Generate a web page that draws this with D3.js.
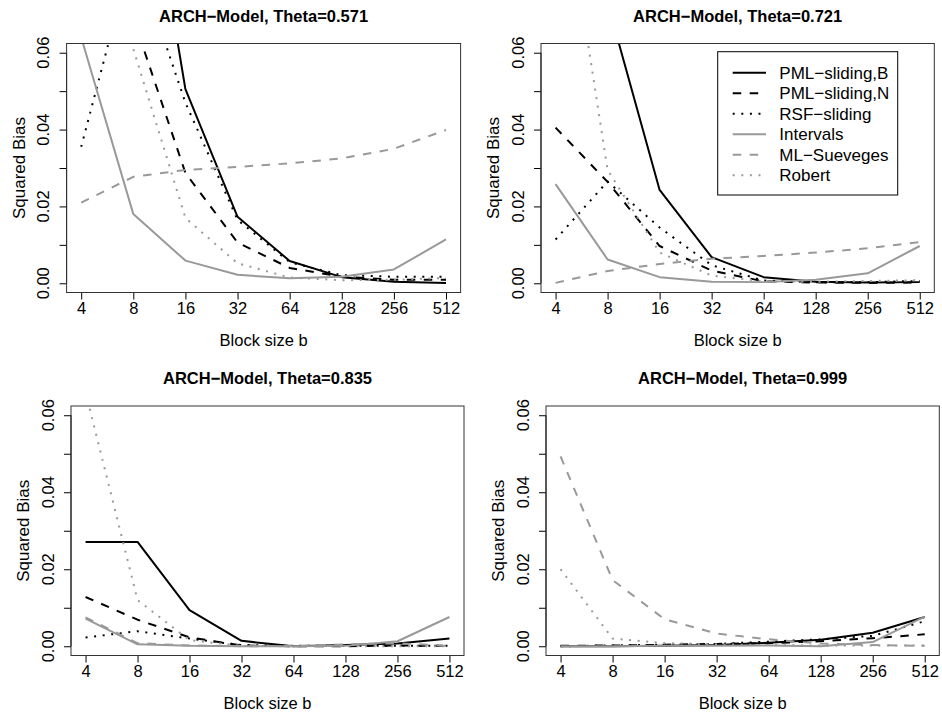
<!DOCTYPE html>
<html><head><meta charset="utf-8">
<script src="https://cdn.jsdelivr.net/npm/d3@7"></script>
<style>html,body{margin:0;padding:0;background:#fff}svg{display:block}text{font-family:"Liberation Sans",Arial,Helvetica,sans-serif}</style>
</head><body>
<svg id="c" width="942" height="715"></svg>
<script>
// ---- data ----
const blockSizes = [4, 8, 16, 32, 64, 128, 256, 512];
const xTickLabels = ["4", "8", "16", "32", "64", "128", "256", "512"];
const yTicks = [0, 0.01, 0.02, 0.03, 0.04, 0.05, 0.06];
const yTickLabels = ["0.00", "", "0.02", "", "0.04", "", "0.06"];
const seriesNames = ["PML\u2212sliding,B", "PML\u2212sliding,N", "RSF\u2212sliding", "Intervals", "ML\u2212Sueveges", "Robert"];
const panelTitles = ["ARCH\u2212Model, Theta=0.571", "ARCH\u2212Model, Theta=0.721", "ARCH\u2212Model, Theta=0.835", "ARCH\u2212Model, Theta=0.999"];

const t571_pmlB      = [0.20, 0.132, 0.0505, 0.0173, 0.0058, 0.0016, 0.0004, 0.0001];
const t571_pmlN      = [0.12, 0.069, 0.0287, 0.0106, 0.0040, 0.0017, 0.0009, 0.0009];
const t571_rsf       = [0.0355, 0.087, 0.047, 0.0165, 0.0055, 0.0021, 0.0017, 0.0017];
const t571_intervals = [0.064, 0.018, 0.0059, 0.0022, 0.0013, 0.0017, 0.0036, 0.0114];
const t571_mlS       = [0.021, 0.0277, 0.0295, 0.0303, 0.0312, 0.0325, 0.035, 0.0399];
const t571_robert    = [0.30, 0.061, 0.017, 0.0052, 0.0015, 0.0008, 0.0009, 0.0014];

const t721_pmlB      = [0.15, 0.073, 0.0243, 0.0068, 0.0016, 0.0004, 0.0002, 0.0003];
const t721_pmlN      = [0.0405, 0.0264, 0.0097, 0.0033, 0.0005, 0.0002, 0.0001, 0.0002];
const t721_rsf       = [0.0114, 0.0265, 0.0145, 0.0047, 0.0007, 0.0003, 0.0003, 0.0006];
const t721_intervals = [0.0258, 0.0062, 0.0016, 0.0004, 0.0003, 0.0009, 0.0026, 0.0097];
const t721_mlS       = [0.0001, 0.0032, 0.005, 0.0064, 0.0071, 0.008, 0.0091, 0.0107];
const t721_robert    = [0.117, 0.0295, 0.008, 0.002, 0.0005, 0.0004, 0.0006, 0.0008];

const t835_pmlB      = [0.0271, 0.0271, 0.0094, 0.0014, 0.0, 0.0003, 0.0007, 0.002];
const t835_pmlN      = [0.0128, 0.0069, 0.0023, 0.0002, 0.0, 0.0, 0.0002, 0.0001];
const t835_rsf       = [0.0023, 0.0039, 0.002, 0.0003, 0.0001, 0.0001, 0.0001, 0.0001];
const t835_intervals = [0.0072, 0.0005, 0.0001, 0.0, 0.0, 0.0001, 0.0013, 0.0076];
const t835_mlS       = [0.0075, 0.0008, 0.0002, 0.0, 0.0001, 0.0005, 0.0008, 0.0001];
const t835_robert    = [0.066, 0.012, 0.0016, 0.0001, 0.0, 0.0, 0.0, 0.0];

const t999_pmlB      = [0.0, 0.0, 0.0001, 0.0003, 0.0009, 0.0017, 0.0035, 0.0076];
const t999_pmlN      = [0.0001, 0.0002, 0.0004, 0.0006, 0.0008, 0.0013, 0.0021, 0.0031];
const t999_rsf       = [0.0, 0.0002, 0.0004, 0.0006, 0.0012, 0.0018, 0.0027, 0.0065];
const t999_intervals = [0.0, 0.0, 0.0001, 0.0001, 0.0002, 0.0, 0.0011, 0.0077];
const t999_mlS       = [0.0493, 0.0172, 0.007, 0.0033, 0.0018, 0.0007, 0.0003, 0.0001];
const t999_robert    = [0.02, 0.002, 0.0008, 0.0005, 0.0003, 0.0002, 0.0002, 0.0002];

const panelSeries = [
  [t571_pmlB, t571_pmlN, t571_rsf, t571_intervals, t571_mlS, t571_robert],
  [t721_pmlB, t721_pmlN, t721_rsf, t721_intervals, t721_mlS, t721_robert],
  [t835_pmlB, t835_pmlN, t835_rsf, t835_intervals, t835_mlS, t835_robert],
  [t999_pmlB, t999_pmlN, t999_rsf, t999_intervals, t999_mlS, t999_robert]
];

// ---- styles / layout ----
const styles = [
  {color: "#000", dash: null},
  {color: "#000", dash: "8.5,8.5"},
  {color: "#000", dash: "2,6.6"},
  {color: "#999", dash: null},
  {color: "#999", dash: "8.5,8.5"},
  {color: "#999", dash: "2,6.6"}
];
const boxes = [
  {l: 66.6, r: 460.6, t: 43.5, b: 292.5},
  {l: 541, r: 934.3, t: 43.5, b: 292.5},
  {l: 71, r: 464, t: 406, b: 655.5},
  {l: 546, r: 939.3, t: 406, b: 655.5}
];
const FS = 16.5;
const svg = d3.select("#c");
const ext = Math.pow(2, 0.28);

boxes.forEach((bx, pi) => {
  const x = d3.scaleLog().base(2).domain([4 / ext, 512 * ext]).range([bx.l, bx.r]);
  const y = d3.scaleLinear().domain([-0.0024, 0.0624]).range([bx.b, bx.t]);
  const g = svg.append("g");
  const cid = "clip" + pi;
  svg.append("defs").append("clipPath").attr("id", cid)
    .append("rect").attr("x", bx.l).attr("y", bx.t).attr("width", bx.r - bx.l).attr("height", bx.b - bx.t);

  // x axis
  const xa = g.append("g").attr("transform", `translate(0,${bx.b})`)
    .call(d3.axisBottom(x).tickValues(blockSizes).tickFormat((d, i) => xTickLabels[i]).tickSize(7).tickPadding(3));
  xa.select(".domain").attr("d", `M${x(4)},0H${x(512)}`).attr("stroke", "#000");
  xa.selectAll("line").attr("stroke", "#000");
  xa.selectAll("text").attr("font-size", FS).attr("fill", "#000").attr("font-family", "Liberation Sans, Arial, sans-serif");

  // y axis
  const ya = g.append("g").attr("transform", `translate(${bx.l},0)`)
    .call(d3.axisLeft(y).tickValues(yTicks).tickFormat((d, i) => yTickLabels[i]).tickSize(7));
  ya.select(".domain").attr("d", `M0,${y(0)}V${y(0.06)}`).attr("stroke", "#000");
  ya.selectAll("line").attr("stroke", "#000");
  ya.selectAll("text").remove();
  yTicks.forEach((v, i) => {
    if (!yTickLabels[i]) return;
    g.append("text").attr("transform", `translate(${bx.l - 17.5},${y(v)}) rotate(-90)`)
      .attr("text-anchor", "middle").attr("font-size", FS).text(yTickLabels[i]);
  });

  // lines
  const line = d3.line().x((d, i) => x(blockSizes[i])).y(d => y(d));
  const lg = g.append("g").attr("clip-path", `url(#${cid})`);
  panelSeries[pi].forEach((vals, si) => {
    lg.append("path").datum(vals).attr("d", line)
      .attr("fill", "none").attr("stroke", styles[si].color).attr("stroke-width", 2)
      .attr("stroke-dasharray", styles[si].dash).attr("stroke-linejoin", "round");
  });

  // box
  g.append("rect").attr("x", bx.l).attr("y", bx.t).attr("width", bx.r - bx.l).attr("height", bx.b - bx.t)
    .attr("fill", "none").attr("stroke", "#333").attr("stroke-width", 1);

  // titles
  const cx = (bx.l + bx.r) / 2;
  g.append("text").attr("x", cx).attr("y", bx.t - 22).attr("text-anchor", "middle")
    .attr("font-size", 16.5).attr("font-weight", "bold").text(panelTitles[pi]);
  g.append("text").attr("x", cx).attr("y", bx.b + 53).attr("text-anchor", "middle")
    .attr("font-size", FS).text("Block size b");
  const cy = (bx.t + bx.b) / 2;
  g.append("text").attr("transform", `translate(${bx.l - 42},${cy}) rotate(-90)`)
    .attr("text-anchor", "middle").attr("font-size", 17).text("Squared Bias");

  // legend
  if (pi === 1) {
    const L = {l: 717.7, t: 51.7, w: 180, h: 143.3};
    const lgd = g.append("g");
    lgd.append("rect").attr("x", L.l).attr("y", L.t).attr("width", L.w).attr("height", L.h)
      .attr("fill", "#fff").attr("stroke", "#000").attr("stroke-width", 1);
    seriesNames.forEach((nm, si) => {
      const yy = 72.7 + si * 20.5;
      lgd.append("line").attr("x1", 732.7).attr("x2", 766).attr("y1", yy).attr("y2", yy)
        .attr("stroke", styles[si].color).attr("stroke-width", 2).attr("stroke-dasharray", styles[si].dash);
      lgd.append("text").attr("x", 779.3).attr("y", yy + 6).attr("font-size", 17).text(nm);
    });
  }
});
</script>
</body></html>
